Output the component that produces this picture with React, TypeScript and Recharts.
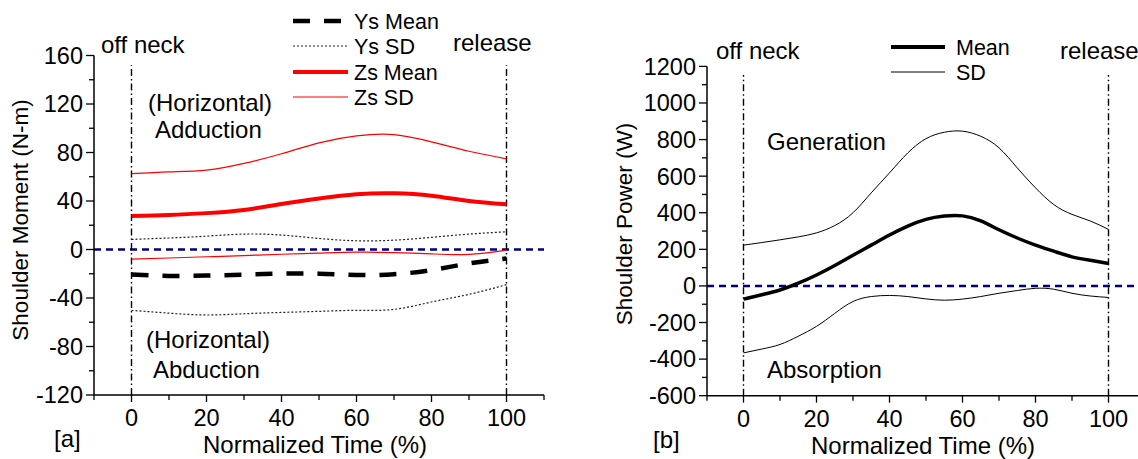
import { LineChart, Line, XAxis, YAxis, ReferenceLine } from 'recharts'

const FONT = '"Liberation Sans", Arial, Helvetica, sans-serif'

// panel [a] shoulder moment
const TIME_A = [0, 10, 20, 30, 40, 50, 60, 70, 80, 90, 100]
const YS_MEAN = [-20.7, -21.8, -21.5, -20.7, -19.9, -19.9, -21, -20.4, -17, -11.5, -7.4]
const YS_SD_UP = [8.3, 9.5, 11, 12.7, 11.9, 9.1, 7.2, 7.7, 10, 12.7, 14.6]
const YS_SD_LOW = [-50.2, -52.5, -54, -53, -51.9, -51, -50.2, -49.4, -43.3, -37, -29]
const ZS_MEAN = [27.7, 28.5, 30, 32.6, 37.5, 42, 45.5, 46.3, 44.4, 40, 37.3]
const ZS_SD_UP = [62.5, 64, 65.5, 71, 79, 88, 93.7, 94.8, 88.8, 81, 74.8]
const ZS_SD_LOW = [-8, -7, -6, -5, -3.9, -3, -2.2, -2.5, -3.6, -4.1, -0.5]

// panel [b] shoulder power
const TIME_B = [0, 5, 10, 15, 20, 25, 30, 35, 40, 45, 50, 55, 60, 65, 70, 75, 80, 85, 90, 95, 100]
const P_MEAN = [-72, -48, -22, 15, 60, 112, 168, 223, 278, 327, 364, 382, 383, 355, 307, 262, 223, 190, 159, 140, 123]
const P_SD_UP = [223, 237, 252, 268, 290, 330, 400, 509, 618, 727, 805, 840, 846, 818, 755, 645, 536, 445, 391, 355, 309]
const P_SD_LOW = [-366, -345, -320, -275, -221, -150, -85, -58, -52, -58, -71, -78, -72, -58, -40, -25, -13, -18, -40, -55, -63]

const X_TICKS = [-10, 0, 10, 20, 30, 40, 50, 60, 70, 80, 90, 100, 110]
const Y_TICKS_A = [-120, -100, -80, -60, -40, -20, 0, 20, 40, 60, 80, 100, 120, 140, 160]
const Y_TICKS_B = [-600, -500, -400, -300, -200, -100, 0, 100, 200, 300, 400, 500, 600, 700, 800, 900, 1000, 1100, 1200]

const dataA = TIME_A.map((t, i) => ({
  t,
  ysMean: YS_MEAN[i],
  ysUp: YS_SD_UP[i],
  ysLow: YS_SD_LOW[i],
  zsMean: ZS_MEAN[i],
  zsUp: ZS_SD_UP[i],
  zsLow: ZS_SD_LOW[i],
}))

const dataB = TIME_B.map((t, i) => ({
  t,
  mean: P_MEAN[i],
  up: P_SD_UP[i],
  low: P_SD_LOW[i],
}))

function XTick({ x, y, payload, labelDy }: any) {
  const v = payload.value
  const major = v % 20 === 0 && v >= 0 && v <= 100
  return (
    <g>
      <line x1={x} y1={y} x2={x} y2={y + (major ? 7 : 5)} stroke="#000" strokeWidth={1.3} />
      {major && (
        <text x={x} y={y + labelDy} dy="0.355em" textAnchor="middle" fontSize={23.5} fontFamily={FONT} fill="#000">
          {v}
        </text>
      )}
    </g>
  )
}

function YTick({ x, y, payload, step }: any) {
  const v = payload.value
  const major = v % step === 0
  return (
    <g>
      <line x1={x - (major ? 8 : 5)} y1={y} x2={x} y2={y} stroke="#000" strokeWidth={1.3} />
      {major && (
        <text x={x - 11} y={y} dy="0.355em" textAnchor="end" fontSize={23.5} fontFamily={FONT} fill="#000">
          {v}
        </text>
      )}
    </g>
  )
}

const dashDot = '7 3 1.5 3'

function Txt({ x, y, children, anchor = 'start', size = 24, rotate }: any) {
  return (
    <text
      x={x}
      y={y}
      dy="0.35em"
      textAnchor={anchor}
      fontSize={size}
      fontFamily={FONT}
      fill="#000"
      transform={rotate ? `rotate(${rotate} ${x} ${y})` : undefined}
    >
      {children}
    </text>
  )
}

export default function App() {
  return (
    <div style={{ position: 'absolute', left: 0, top: 0, width: 1138, height: 459, overflow: 'hidden', background: '#fff' }}>
      <div style={{ position: 'absolute', left: 0, top: 0 }}>
        <LineChart width={560} height={459} data={dataA} margin={{ top: 55.5, right: 16, bottom: 0, left: 0 }}>
          <XAxis
            type="number"
            dataKey="t"
            domain={[-10, 110]}
            ticks={X_TICKS}
            interval={0}
            height={64}
            tickSize={0}
            tickMargin={0}
            stroke="#000"
            strokeWidth={1.5}
            tick={<XTick labelDy={22.5} />}
          />
          <YAxis
            type="number"
            domain={[-120, 160]}
            ticks={Y_TICKS_A}
            interval={0}
            width={94}
            tickSize={0}
            tickMargin={0}
            stroke="#000"
            strokeWidth={1.5}
            tick={<YTick step={40} />}
          />
          <ReferenceLine y={0} stroke="#000080" strokeWidth={2.5} strokeDasharray="7 5" />
          <ReferenceLine segment={[{ x: 0, y: -120 }, { x: 0, y: 152 }]} stroke="#000" strokeWidth={1.4} strokeDasharray={dashDot} />
          <ReferenceLine segment={[{ x: 100, y: -120 }, { x: 100, y: 152 }]} stroke="#000" strokeWidth={1.4} strokeDasharray={dashDot} />
          <Line type="natural" dataKey="zsUp" stroke="#ff0000" strokeWidth={1.2} dot={false} isAnimationActive={false} />
          <Line type="natural" dataKey="zsMean" stroke="#ff0000" strokeWidth={4} dot={false} isAnimationActive={false} />
          <Line type="natural" dataKey="zsLow" stroke="#ff0000" strokeWidth={1.2} dot={false} isAnimationActive={false} />
          <Line type="natural" dataKey="ysUp" stroke="#222" strokeWidth={1.2} strokeDasharray="2 2" dot={false} isAnimationActive={false} />
          <Line type="natural" dataKey="ysLow" stroke="#222" strokeWidth={1.2} strokeDasharray="2 2" dot={false} isAnimationActive={false} />
          <Line type="natural" dataKey="ysMean" stroke="#000" strokeWidth={4.5} strokeDasharray="17 14" dot={false} isAnimationActive={false} />
        </LineChart>
      </div>

      <div style={{ position: 'absolute', left: 600, top: 0 }}>
        <LineChart width={600} height={459} data={dataB} margin={{ top: 66.4, right: 55, bottom: 0, left: 0 }}>
          <XAxis
            type="number"
            dataKey="t"
            domain={[-10, 110]}
            ticks={X_TICKS}
            interval={0}
            height={63.3}
            tickSize={0}
            tickMargin={0}
            stroke="#000"
            strokeWidth={1.5}
            tick={<XTick labelDy={23} />}
          />
          <YAxis
            type="number"
            domain={[-600, 1200]}
            ticks={Y_TICKS_B}
            interval={0}
            width={107}
            tickSize={0}
            tickMargin={0}
            stroke="#000"
            strokeWidth={1.5}
            tick={<YTick step={200} />}
          />
          <ReferenceLine y={0} stroke="#000080" strokeWidth={2.5} strokeDasharray="7 5" />
          <ReferenceLine segment={[{ x: 0, y: -600 }, { x: 0, y: 1153 }]} stroke="#000" strokeWidth={1.4} strokeDasharray={dashDot} />
          <ReferenceLine segment={[{ x: 100, y: -600 }, { x: 100, y: 1153 }]} stroke="#000" strokeWidth={1.4} strokeDasharray={dashDot} />
          <Line type="natural" dataKey="up" stroke="#000" strokeWidth={1} dot={false} isAnimationActive={false} />
          <Line type="natural" dataKey="low" stroke="#000" strokeWidth={1} dot={false} isAnimationActive={false} />
          <Line type="natural" dataKey="mean" stroke="#000" strokeWidth={3.5} dot={false} isAnimationActive={false} />
        </LineChart>
      </div>

      <svg width={1138} height={459} style={{ position: 'absolute', left: 0, top: 0, pointerEvents: 'none' }}>
        {/* panel a legend */}
        <line x1={293} y1={21} x2={348} y2={21} stroke="#000" strokeWidth={4.5} strokeDasharray="17 14" />
        <line x1={293} y1={46} x2={348} y2={46} stroke="#222" strokeWidth={1.2} strokeDasharray="2 2" />
        <line x1={293} y1={72} x2={348} y2={72} stroke="#ff0000" strokeWidth={4} />
        <line x1={293} y1={97} x2={348} y2={97} stroke="#ff0000" strokeWidth={1.2} />
        <Txt x={354} y={21} size={21.5}>Ys Mean</Txt>
        <Txt x={354} y={46} size={21.5}>Ys SD</Txt>
        <Txt x={354} y={72} size={21.5}>Zs Mean</Txt>
        <Txt x={354} y={97} size={21.5}>Zs SD</Txt>

        <Txt x={101} y={45}>off neck</Txt>
        <Txt x={453} y={43}>release</Txt>
        <Txt x={148} y={103}>(Horizontal)</Txt>
        <Txt x={155} y={130}>Adduction</Txt>
        <Txt x={146} y={340}>(Horizontal)</Txt>
        <Txt x={153} y={370}>Abduction</Txt>
        <Txt x={54} y={439}>[a]</Txt>
        <Txt x={315} y={445} anchor="middle">Normalized Time (%)</Txt>
        <Txt x={20} y={220} anchor="middle" size={22.5} rotate={-90}>Shoulder Moment (N-m)</Txt>

        {/* panel b legend */}
        <line x1={891} y1={47} x2={945} y2={47} stroke="#000" strokeWidth={4} />
        <line x1={891} y1={72} x2={945} y2={72} stroke="#000" strokeWidth={1} />
        <Txt x={956} y={47} size={21.5}>Mean</Txt>
        <Txt x={956} y={72} size={21.5}>SD</Txt>

        <Txt x={716} y={51}>off neck</Txt>
        <Txt x={1060} y={51}>release</Txt>
        <Txt x={767} y={142}>Generation</Txt>
        <Txt x={767} y={370}>Absorption</Txt>
        <Txt x={653} y={440}>[b]</Txt>
        <Txt x={923} y={446} anchor="middle">Normalized Time (%)</Txt>
        <Txt x={624} y={224} anchor="middle" size={22.5} rotate={-90}>Shoulder Power (W)</Txt>
      </svg>
    </div>
  )
}
